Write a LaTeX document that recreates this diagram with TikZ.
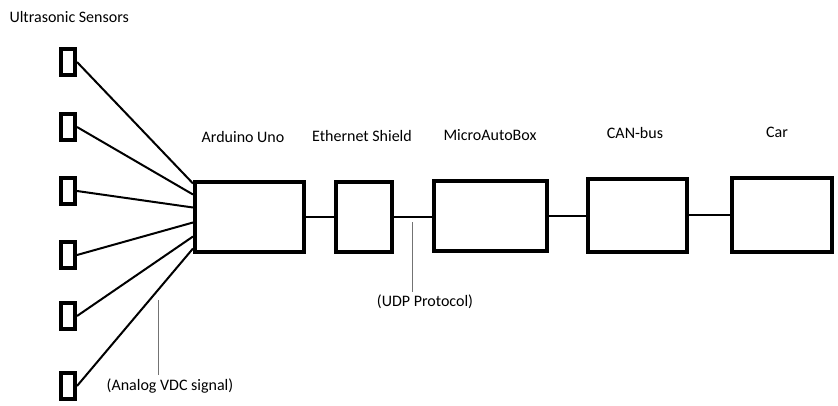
\documentclass[tikz,border=0pt]{standalone}
\usepackage{fontspec}
\setmainfont{Carlito}
\usepackage{tikz}
\usetikzlibrary{positioning}

\begin{document}
\begin{tikzpicture}[
x=1pt, y=-1pt,
font=\fontsize{16}{18}\selectfont,
block/.style={draw, line width=4pt, inner sep=0pt, minimum width=109pt, minimum height=70pt},
sensor/.style={draw, line width=4pt, inner sep=0pt, minimum width=14pt, minimum height=26pt},
wire/.style={line width=2pt},
leader/.style={draw=black!55, line width=0.8pt}
]
\useasboundingbox (0,0) rectangle (838,405);
\node[anchor=west] (title) at (6,17) {Ultrasonic Sensors};
\node[sensor] (s1) at (68,62) {};
\node[sensor] (s2) at (68,127) {};
\node[sensor] (s3) at (68,191) {};
\node[sensor] (s4) at (68,255) {};
\node[sensor] (s5) at (68,316) {};
\node[sensor] (s6) at (68,386) {};
\node[block] (ard) at (249.5,216.5) {};
\node[block, minimum width=56pt] (eth) at (363.5,216.5) {};
\node[block, minimum width=113pt] (mab) at (490,215.5) {};
\node[block, minimum width=99pt, minimum height=73pt] (can) at (637,215) {};
\node[block, minimum width=100pt, minimum height=74pt] (car) at (781.5,214.5) {};
\node (lard) at (243,137) {Arduino Uno};
\node (leth) at (362,136) {Ethernet Shield};
\node (lmab) at (490,135) {MicroAutoBox};
\node (lcan) at (635,133) {CAN-bus};
\node (lcar) at (777,132) {Car};
% sensors to arduino
\draw[wire] (s1.east) -- ([yshift=-4pt]ard.north west);
\draw[wire] (s2.east) -- ([yshift=-15pt]ard.north west);
\draw[wire] (s3.east) -- ([yshift=-28pt]ard.north west);
\draw[wire] (s4.east) -- ([yshift=-43pt]ard.north west);
\draw[wire] (s5.east) -- ([yshift=-57pt]ard.north west);
\draw[wire] (s6.east) -- ([yshift=-69pt]ard.north west);
% chain
\draw[wire] (ard.east) -- (ard.east -| eth.west);
\draw[wire] (eth.east) -- (eth.east -| mab.west);
\draw[wire] (mab.east) -- (mab.east -| can.west);
\draw[wire] (can.east) -- (can.east -| car.west);
% notes
\node (udp) at (425,302) {(UDP Protocol)};
\coordinate (udptop) at (412,222);
\draw[leader] (udptop) -- (udptop |- udp.north);
\node (vdc) at (170,386) {(Analog VDC signal)};
\coordinate (vdctop) at (158,300);
\draw[leader] (vdctop) -- (vdctop |- vdc.north);
\end{tikzpicture}
\end{document}
